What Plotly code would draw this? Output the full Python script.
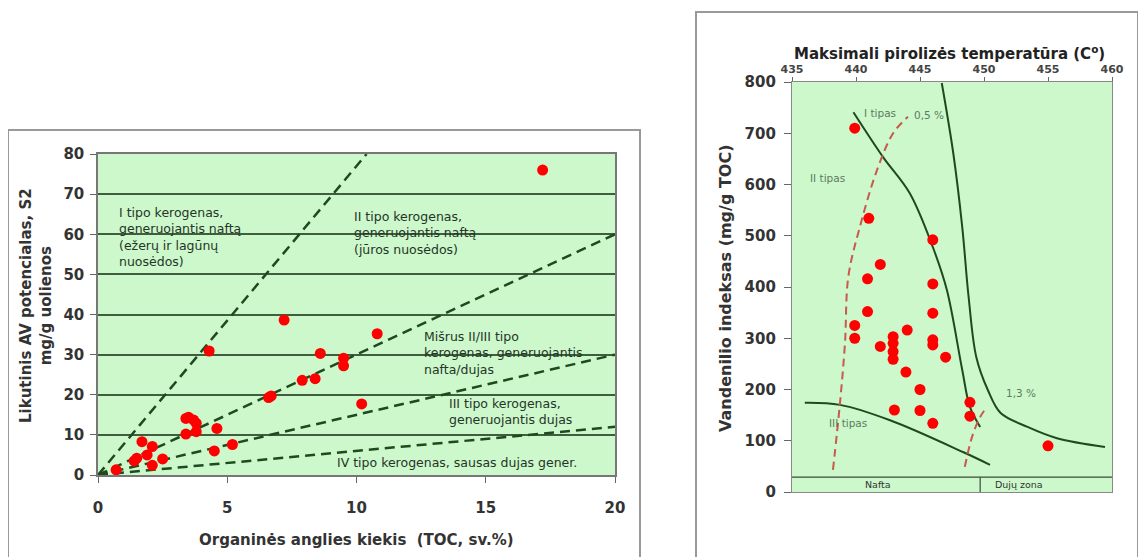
import plotly.graph_objects as go

# ---------------- Left chart data: TOC vs S2 ----------------
toc = [0.7, 1.4, 1.5, 1.7, 1.9, 2.1, 2.1, 2.5, 3.4, 3.5, 3.7, 3.8, 3.8, 3.4, 4.6,
       4.5, 5.2, 4.3, 6.7, 6.6, 7.2, 7.9, 8.4, 8.6, 9.5, 9.5, 10.2, 10.8, 17.2]
s2 = [1.3, 3.5, 4.2, 8.3, 5.0, 7.1, 2.4, 4.0, 14.1, 14.4, 13.7, 12.9, 10.8, 10.2, 11.6,
      6.0, 7.6, 30.9, 19.7, 19.3, 38.6, 23.6, 24.0, 30.3, 29.1, 27.2, 17.7, 35.2, 76.0]

# kerogen boundary lines S2 = slope * TOC
boundary_slopes = [7.7, 3.0, 1.5, 0.6]
x_max, y_max = 20, 80

left_labels = [
    ("I tipo kerogenas,<br>generuojantis naftą<br>(ežerų ir lagūnų<br>nuosėdos)", 0.74, 59.2),
    ("II tipo kerogenas,<br>generuojantis naftą<br>(jūros nuosėdos)", 9.83, 60.3),
    ("Mišrus II/III tipo<br>kerogenas, generuojantis<br>nafta/dujas", 12.53, 30.4),
    ("III tipo kerogenas,<br>generuojantis dujas", 13.5, 15.8),
    ("IV tipo kerogenas, sausas dujas gener.", 9.17, 3.2),
]

# ---------------- Right chart data: Tmax vs HI ----------------
tmax = [439.9, 441.0, 446.0, 441.9, 440.9, 446.0, 440.9, 446.0, 439.9, 439.9, 444.0,
        442.9, 442.9, 441.9, 442.9, 442.9, 446.0, 446.0, 447.0, 443.9, 445.0, 443.0,
        445.0, 446.0, 448.9, 448.9, 455.0]
hi = [710, 534, 492, 444, 416, 406, 352, 349, 325, 300, 316, 303, 290, 284, 274, 259,
      297, 287, 263, 234, 200, 160, 159, 134, 175, 148, 90]

type1_t = [439.8, 442.1, 444.2, 446.0, 447.1, 448.3, 448.9, 449.7]
type1_hi = [741, 654, 583, 478, 394, 238, 166, 127]
gas_t = [446.7, 447.6, 448.3, 448.8, 449.4, 450.3, 451.3, 453.4, 455.7, 459.45]
gas_hi = [798, 661, 517, 380, 263, 199, 154, 127, 105, 88]
type3_t = [436.0, 438.75, 442.66, 448.36, 450.47]
type3_hi = [174, 170, 140, 78, 53]
ro05_t = [438.2, 438.75, 439.14, 439.4, 440.3, 441.64, 442.9, 444.06]
ro05_hi = [43, 174, 291, 420, 517, 628, 700, 732]
ro13_t = [448.5, 449.06, 449.69, 450.23]
ro13_hi = [49, 107, 146, 166]

zone_hi = 29
zone_split_t = 449.7

right_labels = [
    ("I tipas", 441.9, 739),
    ("II tipas", 437.8, 613),
    ("III tipas", 439.4, 135),
    ("0,5 %", 445.7, 735),
    ("1,3 %", 452.9, 193),
]

FONT = "DejaVu Sans, Verdana, sans-serif"
GREEN_BG = "#CCF8CC"
DARK_GREEN = "#1E4A1E"
RED = "#FF0000"

# the page body adds an 8px margin; lay everything out in screen pixels
OX, OY = 8, 8
W, H = 1138, 549


def px(x):
    return (x - OX) / W


def py(y):
    return 1 - (y - OY) / H


fig = go.Figure()

# left: boundary dashed lines
for k in boundary_slopes:
    xe = min(x_max, y_max / k)
    fig.add_trace(go.Scatter(x=[0, xe], y=[0, k * xe], mode="lines",
                             line=dict(color=DARK_GREEN, width=2.5, dash="10px,6px"),
                             xaxis="x", yaxis="y", hoverinfo="skip", showlegend=False))
fig.add_trace(go.Scatter(x=toc, y=s2, mode="markers",
                         marker=dict(color=RED, size=11, line=dict(width=0)),
                         xaxis="x", yaxis="y", showlegend=False))

# right: curves
for xs, ys in [(type1_t, type1_hi), (gas_t, gas_hi), (type3_t, type3_hi)]:
    fig.add_trace(go.Scatter(x=xs, y=ys, mode="lines", line=dict(color=DARK_GREEN, width=2, shape="spline"),
                             xaxis="x2", yaxis="y2", hoverinfo="skip", showlegend=False))
for xs, ys in [(ro05_t, ro05_hi), (ro13_t, ro13_hi)]:
    fig.add_trace(go.Scatter(x=xs, y=ys, mode="lines",
                             line=dict(color="#C9594C", width=2, dash="8px,5px", shape="spline"),
                             xaxis="x2", yaxis="y2", hoverinfo="skip", showlegend=False))
fig.add_trace(go.Scatter(x=tmax, y=hi, mode="markers",
                         marker=dict(color=RED, size=11, line=dict(width=0)),
                         xaxis="x2", yaxis="y2", showlegend=False))

annotations = []
for txt, x, y in left_labels:
    annotations.append(dict(text=txt, x=x, y=y, xref="x", yref="y", xanchor="left", yanchor="middle",
                            align="left", showarrow=False,
                            font=dict(family=FONT, size=12.5, color="#263426")))
for txt, x, y in right_labels:
    annotations.append(dict(text=txt, x=x, y=y, xref="x2", yref="y2", xanchor="center", yanchor="middle",
                            showarrow=False, font=dict(family=FONT, size=10.5, color="#5E7A5E")))
annotations.append(dict(text="Nafta", x=441.7, y=zone_hi / 2, xref="x2", yref="y2", showarrow=False,
                        xanchor="center", yanchor="middle",
                        font=dict(family=FONT, size=9.5, color="#333")))
annotations.append(dict(text="Dujų zona", x=452.7, y=zone_hi / 2, xref="x2", yref="y2", showarrow=False,
                        xanchor="center", yanchor="middle",
                        font=dict(family=FONT, size=9.5, color="#333")))

# axis titles
annotations.append(dict(text="Organinės anglies kiekis  (TOC, sv.%)", x=px(356), y=py(540),
                        xref="paper", yref="paper", showarrow=False, xanchor="center", yanchor="middle",
                        font=dict(family=FONT, size=15, color="#333", weight="bold")))
annotations.append(dict(text="Likutinis AV potencialas, S2<br>mg/g uolienos", x=px(36), y=py(306),
                        xref="paper", yref="paper", showarrow=False, textangle=-90,
                        xanchor="center", yanchor="middle",
                        font=dict(family=FONT, size=15, color="#333", weight="bold")))
annotations.append(dict(text="Maksimali pirolizės temperatūra (C<sup>o</sup>)", x=px(949), y=py(53),
                        xref="paper", yref="paper", showarrow=False, xanchor="center", yanchor="middle",
                        font=dict(family=FONT, size=15, color="#222", weight="bold")))
annotations.append(dict(text="Vandenilio indeksas (mg/g TOC)", x=px(725), y=py(288),
                        xref="paper", yref="paper", showarrow=False, textangle=-90,
                        xanchor="center", yanchor="middle",
                        font=dict(family=FONT, size=16, color="#333", weight="bold")))

shapes = [
    dict(type="rect", xref="paper", yref="paper", x0=px(8), x1=px(640), y0=-0.05, y1=py(130),
         line=dict(color="#999", width=2)),
    dict(type="rect", xref="paper", yref="paper", x0=px(696), x1=px(1138), y0=-0.05, y1=py(12),
         line=dict(color="#999", width=2)),
    dict(type="line", xref="x2", yref="y2", x0=435, x1=460, y0=zone_hi, y1=zone_hi,
         line=dict(color="#3A4A3A", width=1.2)),
    dict(type="line", xref="x2", yref="y2", x0=zone_split_t, x1=zone_split_t, y0=0, y1=zone_hi,
         line=dict(color="#3A4A3A", width=1.2)),
]

tickfont_big = dict(family=FONT, size=15, color="#333", weight="bold")

fig.update_layout(
    width=W, height=H, margin=dict(l=0, r=0, t=0, b=0, autoexpand=False),
    paper_bgcolor="white", plot_bgcolor=GREEN_BG, showlegend=False,
    xaxis=dict(domain=[px(98), px(615)], range=[0, x_max], tickvals=[0, 5, 10, 15, 20],
               showgrid=False, zeroline=False, showline=True, linecolor="#777", linewidth=1.5,
               mirror=True, ticks="outside", ticklen=6, tickcolor="#666", automargin=False,
               tickfont=tickfont_big, ticklabelstandoff=12, anchor="y"),
    yaxis=dict(domain=[py(475), py(154)], range=[0, y_max], dtick=10,
               showgrid=True, gridcolor="#3E5E3E", gridwidth=1.6, zeroline=False,
               showline=True, linecolor="#777", linewidth=1.5, mirror=True,
               ticks="outside", ticklen=6, tickcolor="#666", automargin=False, ticklabelstandoff=3,
               tickfont=tickfont_big, anchor="x"),
    xaxis2=dict(domain=[px(792), px(1112)], range=[435, 460], dtick=5, side="top",
                showgrid=False, zeroline=False, showline=True, linecolor="#888", linewidth=1.2,
                mirror=True, ticks="outside", ticklen=4, tickcolor="#666", automargin=False,
                tickfont=dict(family=FONT, size=11, color="#444", weight="bold"), anchor="y2"),
    yaxis2=dict(domain=[py(492), py(82)], range=[0, 800], dtick=100,
                showgrid=False, zeroline=False, showline=True, linecolor="#888", linewidth=1.2,
                mirror=True, ticks="outside", ticklen=7, tickcolor="#666", automargin=False,
                ticklabelstandoff=5, tickfont=tickfont_big, anchor="x2"),
    annotations=annotations, shapes=shapes,
)

fig.write_html("out.html")
